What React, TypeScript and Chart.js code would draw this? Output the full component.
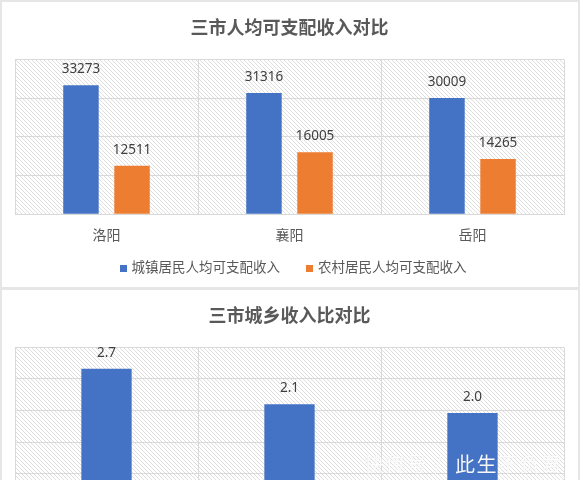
import React, { useEffect, useRef } from "react";
import { Chart, registerables } from "chart.js";

Chart.register(...registerables);

const FONT = "'Noto Sans', 'Noto Sans CJK SC', sans-serif";

const cities = ["洛阳", "襄阳", "岳阳"];
const urbanIncome = [33273, 31316, 30009];
const ruralIncome = [12511, 16005, 14265];
const incomeTicks = { min: 0, max: 40000, step: 10000 };

const ratioCities = ["洛阳", "襄阳", "岳阳"];
const incomeRatio = [2.66, 2.1, 1.96];
const ratioTicks = { min: 0, max: 3, step: 0.5 };

const BLUE = "#4472C4";
const ORANGE = "#ED7D31";
const GRID = "#d9d9d9";
const TEXT = "#595959";

function makeHatch(ctx: CanvasRenderingContext2D) {
  const c = document.createElement("canvas");
  c.width = 4;
  c.height = 4;
  const g = c.getContext("2d")!;
  g.fillStyle = "#ffffff";
  g.fillRect(0, 0, 4, 4);
  g.fillStyle = "#dedede";
  for (let i = 0; i < 4; i++) g.fillRect(i, i, 1, 1);
  return ctx.createPattern(c, "repeat")!;
}

const hatchPlugin = {
  id: "hatchBg",
  beforeDraw(chart: any) {
    const { ctx, chartArea: a } = chart;
    if (!a) return;
    ctx.save();
    ctx.fillStyle = makeHatch(ctx);
    ctx.fillRect(a.left, a.top, a.right - a.left, a.bottom - a.top);
    ctx.restore();
  },
};

function makeLabelPlugin(fmt: (v: number) => string) {
  return {
    id: "barLabels",
    afterDatasetsDraw(chart: any) {
      const { ctx } = chart;
      chart.data.datasets.forEach((ds: any, di: number) => {
        const meta = chart.getDatasetMeta(di);
        meta.data.forEach((el: any, i: number) => {
          ctx.save();
          ctx.font = `13.5px ${FONT}`;
          ctx.fillStyle = "#404040";
          ctx.textAlign = "center";
          ctx.textBaseline = "alphabetic";
          ctx.fillText(fmt(ds.data[i]), el.x, el.y - 12);
          ctx.restore();
        });
      });
    },
  };
}

// Legend drawn on the canvas below the x axis
function makeLegendPlugin(centerY: number) {
  return {
    id: "bottomLegend",
    afterDraw(chart: any) {
      const { ctx } = chart;
      const box = 7;
      const gapText = 5;
      const gapItem = 26;
      ctx.save();
      ctx.font = `13.5px ${FONT}`;
      const items = chart.data.datasets.map((ds: any) => ({
        text: ds.label,
        color: ds.backgroundColor,
        w: box + gapText + ctx.measureText(ds.label).width,
      }));
      const total =
        items.reduce((s: number, it: any) => s + it.w, 0) + gapItem * (items.length - 1);
      let x = chart.width / 2 + 3 - total / 2;
      items.forEach((it: any) => {
        ctx.fillStyle = it.color;
        ctx.fillRect(Math.round(x), Math.round(centerY - box / 2), box, box);
        ctx.fillStyle = TEXT;
        ctx.textAlign = "left";
        ctx.textBaseline = "middle";
        ctx.fillText(it.text, x + box + gapText, centerY);
        x += it.w + gapItem;
      });
      ctx.restore();
    },
  };
}

function IncomeChart() {
  const ref = useRef<HTMLCanvasElement>(null);
  useEffect(() => {
    const chart = new Chart(ref.current!, {
      type: "bar",
      data: {
        labels: cities,
        datasets: [
          {
            label: "城镇居民人均可支配收入",
            data: urbanIncome,
            backgroundColor: BLUE,
            borderWidth: 0,
            categoryPercentage: 0.558,
            barPercentage: 0.695,
          },
          {
            label: "农村居民人均可支配收入",
            data: ruralIncome,
            backgroundColor: ORANGE,
            borderWidth: 0,
            categoryPercentage: 0.558,
            barPercentage: 0.695,
          },
        ],
      },
      options: {
        animation: false,
        responsive: false,
        maintainAspectRatio: false,
        layout: { padding: { left: 13, right: 14, top: 0, bottom: 29.9 } },
        plugins: {
          title: {
            display: true,
            text: "三市人均可支配收入对比",
            color: TEXT,
            font: { size: 18, weight: "bold", family: FONT },
            padding: { top: 16.4, bottom: 19.3 },
          },
          legend: { display: false },
          tooltip: { enabled: false },
        },
        scales: {
          x: {
            grid: { color: GRID, drawTicks: false },
            border: { color: GRID },
            ticks: { color: TEXT, font: { size: 14, family: FONT }, padding: 13 },
          },
          y: {
            min: incomeTicks.min,
            max: incomeTicks.max,
            ticks: { display: false, stepSize: incomeTicks.step },
            grid: { color: GRID, drawTicks: false },
            border: { display: false },
          },
        },
      },
      plugins: [hatchPlugin, makeLabelPlugin((v) => String(v)), makeLegendPlugin(266.5)],
    } as any);
    return () => chart.destroy();
  }, []);
  return <canvas ref={ref} width={576} height={285} style={{ display: "block" }} />;
}

function RatioChart() {
  const ref = useRef<HTMLCanvasElement>(null);
  useEffect(() => {
    const chart = new Chart(ref.current!, {
      type: "bar",
      data: {
        labels: ratioCities,
        datasets: [
          {
            label: "城乡收入比",
            data: incomeRatio,
            backgroundColor: BLUE,
            borderWidth: 0,
            categoryPercentage: 0.55,
            barPercentage: 0.5,
          },
        ],
      },
      options: {
        animation: false,
        responsive: false,
        maintainAspectRatio: false,
        layout: { padding: { left: 13, right: 14, top: 0, bottom: 0.3 } },
        plugins: {
          title: {
            display: true,
            text: "三市城乡收入比对比",
            color: TEXT,
            font: { size: 18, weight: "bold", family: FONT },
            padding: { top: 16.4, bottom: 19.3 },
          },
          legend: { display: false },
          tooltip: { enabled: false },
        },
        scales: {
          x: {
            grid: { color: GRID, drawTicks: false },
            border: { color: GRID },
            ticks: { color: TEXT, font: { size: 14, family: FONT }, padding: 13 },
          },
          y: {
            min: ratioTicks.min,
            max: ratioTicks.max,
            ticks: { display: false, stepSize: ratioTicks.step },
            grid: { color: GRID, drawTicks: false },
            border: { display: false },
          },
        },
      },
      plugins: [hatchPlugin, makeLabelPlugin((v) => v.toFixed(1))],
    } as any);
    return () => chart.destroy();
  }, []);
  return <canvas ref={ref} width={576} height={290} style={{ display: "block" }} />;
}

const wmStyle: React.CSSProperties = {
  position: "absolute",
  top: 449,
  fontFamily: "'Noto Sans CJK SC', sans-serif",
  fontSize: 20,
  color: "rgba(255,255,255,0.95)",
  textShadow: "0 0 1px rgba(0,0,0,0.15)",
  whiteSpace: "nowrap",
  letterSpacing: 1.5,
};

export default function App() {
  useEffect(() => {
    document.body.style.margin = "0";
  }, []);
  return (
    <div
      style={{
        position: "relative",
        width: 580,
        height: 480,
        overflow: "hidden",
        background: "#e6e6e6",
      }}
    >
      <div style={{ position: "absolute", left: 2, top: 2, width: 576, height: 285, background: "#fff" }}>
        <IncomeChart />
      </div>
      <div style={{ position: "absolute", left: 2, top: 290, width: 576, height: 290, background: "#fff" }}>
        <RatioChart />
      </div>
      <div style={{ ...wmStyle, left: 364 }}>快传号</div>
      <div style={{ ...wmStyle, left: 434 }}>/</div>
      <div style={{ ...wmStyle, left: 455 }}>此生不负君</div>
    </div>
  );
}
